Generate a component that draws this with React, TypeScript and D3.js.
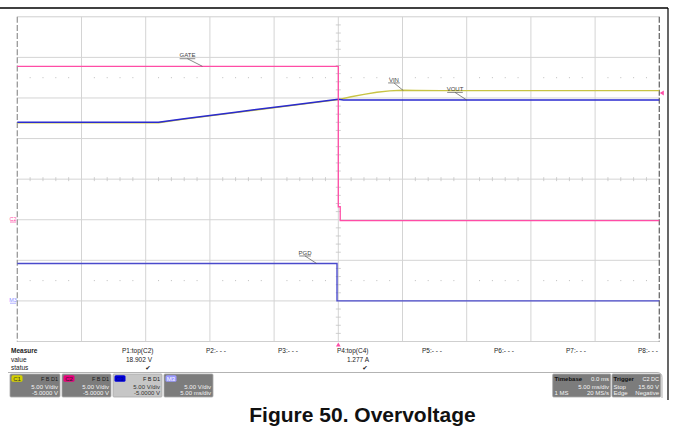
import React from 'react';
import * as d3 from 'd3';

// ---- data (time in ms, values in volts) ----
const vinTime = [-25, -14, -12, -8, -4, 0, 1, 2, 3, 4, 5, 6, 8, 25];
const vinVolts = [11.95, 11.95, 12.4, 13.2, 14.0, 14.8, 15.15, 15.45, 15.7, 15.88, 15.95, 15.93, 15.9, 15.9];
const voutTime = [-25, -14, -12, -8, -4, 0, 0.4, 25];
const voutVolts = [12.0, 12.0, 12.45, 13.25, 14.05, 14.85, 14.75, 14.75];
const gateTime = [-25, 0, 0, 0.15, 0.15, 25];
const gateVolts = [18.9, 18.9, 1.6, 1.6, -0.1, -0.1];
const pgdTime = [-25, -0.1, -0.1, 25];
const pgdVolts = [4.6, 4.6, 0, 0];

const measureLabels = ['P1:top(C2)', 'P2:- - -', 'P3:- - -', 'P4:top(C4)', 'P5:- - -', 'P6:- - -', 'P7:- - -', 'P8:- - -'];
const measureValues = ['18.902 V', '', '', '1.277 A', '', '', '', ''];
const measureStatus = [true, false, false, true, false, false, false, false];

const title = 'Figure 50. Overvoltage';

const W = 674;
const H = 430;
const plotLeft = 17.3;
const plotRight = 659.3;
const plotTop = 16.8;
const plotBottom = 341.5;

const x = d3.scaleLinear().domain([-25, 25]).range([plotLeft, plotRight]);
const yDiv = d3.scaleLinear().domain([-4, 4]).range([plotBottom, plotTop]);

// channel vertical mapping: volts -> divisions
const chC = (v: number) => (v - 5) / 5; // C1..C3 : 5 V/div, offset -5 V
const chM = (v: number) => v / 5 - 3; // M3 : 5 V/div, position -3 div

const mkLine = (conv: (v: number) => number) =>
  d3
    .line<[number, number]>()
    .x((d) => x(d[0]))
    .y((d) => yDiv(conv(d[1])));

const zip = (a: number[], b: number[]) => a.map((t, i) => [t, b[i]] as [number, number]);

const PINK = '#ff4da6';
const YEL = '#c8c444';
const BLUE = '#2a2ad0';
const PGDC = '#4a4acc';

const FONT = 'Arial, "Liberation Sans", sans-serif';

function Label({ text, t, v, conv, ldx }: { text: string; t: number; v: number; conv: (v: number) => number; ldx: number }) {
  const ax = x(t);
  const ay = yDiv(conv(v));
  const sx = ax + ldx;
  const sy = ay - 7.6;
  const tw = text.length * 3.9;
  return (
    <g>
      <line x1={ax} y1={ay} x2={sx} y2={sy} stroke="#555" strokeWidth={0.7} />
      <line x1={sx - tw / 2} y1={sy} x2={sx + tw / 2} y2={sy} stroke="#555" strokeWidth={0.7} />
      <text x={sx} y={sy - 1.3} fontSize={6} textAnchor="middle" fill="#444" fontFamily={FONT}>
        {text}
      </text>
    </g>
  );
}

function ChBox({ bx, w, badge, badgeColor, badgeText, bg, dark, rows }: any) {
  const by = 374;
  const h = 23;
  const tc = dark ? '#333' : '#f4f4f4';
  return (
    <g fontFamily={FONT} fontSize={6}>
      <rect x={bx} y={by} width={w} height={h} fill={bg} stroke="#a8a8a8" strokeWidth={0.8} rx={1} />
      <rect x={bx + 1.5} y={by + 1.2} width={11} height={6.5} fill={badgeColor} rx={1.5} />
      <text x={bx + 7} y={by + 6.6} textAnchor="middle" fill={badgeText} fontSize={6}>
        {badge}
      </text>
      {rows[0] && (
        <text x={bx + w - 2} y={by + 6.6} textAnchor="end" fill="#1a1a1a" fontSize={5.5}>
          {rows[0]}
        </text>
      )}
      <text x={bx + w - 2} y={by + 14.5} textAnchor="end" fill={tc}>
        {rows[1]}
      </text>
      <text x={bx + w - 2} y={by + 21} textAnchor="end" fill={tc}>
        {rows[2]}
      </text>
    </g>
  );
}

export default function App() {
  const vGrid = d3.range(-20, 25, 5);
  const hGrid = d3.range(-3, 4, 1);
  const minorT = d3.range(-25, 25.001, 1).filter((t) => Math.abs(t % 5) > 1e-6);
  const minorD = d3.range(-4, 4.001, 0.2).filter((d) => Math.abs(d - Math.round(d)) > 1e-6);
  const cx = x(0);
  const cy = yDiv(0);

  const measCols = [122, 206, 278, 337, 422, 494, 566, 638];
  const valRight = [152, 0, 0, 369, 0, 0, 0, 0];

  return (
    <svg width={W} height={H} style={{ position: 'absolute', left: 0, top: 0, background: '#fff' }}>
      {/* outer frame */}
      <line x1={0} y1={8} x2={668} y2={8} stroke="#000" strokeWidth={1.4} />
      <line x1={668} y1={8} x2={668} y2={400} stroke="#000" strokeWidth={1.2} />

      {/* plot area */}
      <rect x={plotLeft} y={plotTop} width={plotRight - plotLeft} height={plotBottom - plotTop} fill="#fff" stroke="none" />
      {vGrid.map((t) => (
        <line key={'vg' + t} x1={x(t)} x2={x(t)} y1={plotTop} y2={plotBottom} stroke="#d4d4d4" strokeWidth={1} />
      ))}
      {hGrid.map((d) => (
        <line key={'hg' + d} x1={plotLeft} x2={plotRight} y1={yDiv(d)} y2={yDiv(d)} stroke="#d4d4d4" strokeWidth={1} />
      ))}
      {/* dotted rows */}
      {[2.5, -2.5].map((d) =>
        minorT.map((t) => (
          <rect key={'dot' + d + '_' + t} x={x(t) - 0.5} y={yDiv(d) - 0.5} width={1} height={1} fill="#bdbdbd" />
        ))
      )}
      {/* center axis ticks */}
      {minorT.map((t) => (
        <line key={'ct' + t} x1={x(t)} x2={x(t)} y1={cy - 2} y2={cy + 2} stroke="#c4c4c4" strokeWidth={0.8} />
      ))}
      {minorD.map((d) => (
        <line key={'cd' + d} x1={cx - 2.5} x2={cx + 2.5} y1={yDiv(d)} y2={yDiv(d)} stroke="#c4c4c4" strokeWidth={0.8} />
      ))}
      {/* borders */}
      <line x1={plotLeft} x2={plotRight} y1={plotTop} y2={plotTop} stroke="#cfcfcf" strokeWidth={1} />
      <line x1={plotLeft} x2={plotRight} y1={plotBottom} y2={plotBottom} stroke="#cfcfcf" strokeWidth={1} />
      <line x1={plotLeft} x2={plotLeft} y1={plotTop} y2={plotBottom} stroke="#9a9a9a" strokeWidth={1.3} strokeDasharray="6 2.1" />
      <line x1={plotRight} x2={plotRight} y1={plotTop} y2={plotBottom} stroke="#6a6a6a" strokeWidth={1.3} strokeDasharray="6 2.1" />

      {/* traces */}
      <path d={mkLine(chC)(zip(vinTime, vinVolts)) || ''} fill="none" stroke={YEL} strokeWidth={1.4} />
      <path d={mkLine(chC)(zip(voutTime, voutVolts)) || ''} fill="none" stroke={BLUE} strokeWidth={1.5} />
      <path d={mkLine(chC)(zip(gateTime, gateVolts)) || ''} fill="none" stroke={PINK} strokeWidth={1.3} />
      <path d={mkLine(chM)(zip(pgdTime, pgdVolts)) || ''} fill="none" stroke={PGDC} strokeWidth={1.4} />

      {/* trace labels */}
      <Label text="GATE" t={-10.58} v={18.9} conv={chC} ldx={-15} />
      <Label text="VIN" t={5.06} v={15.92} conv={chC} ldx={-9.3} />
      <Label text="VOUT" t={10.0} v={14.75} conv={chC} ldx={-11.7} />
      <Label text="PGD" t={-1.68} v={4.6} conv={chM} ldx={-11.7} />

      {/* ground markers */}
      <text x={13} y={yDiv(chC(0)) + 1.5} fontSize={5.5} textAnchor="middle" fill={PINK} fontFamily={FONT}>
        C2
      </text>
      <line x1={10} x2={16} y1={yDiv(chC(0)) + 2.3} y2={yDiv(chC(0)) + 2.3} stroke={PINK} strokeWidth={0.7} />
      <text x={13} y={yDiv(chM(0)) + 1.5} fontSize={5.5} textAnchor="middle" fill="#8c8cff" fontFamily={FONT}>
        M3
      </text>
      <line x1={10} x2={16} y1={yDiv(chM(0)) + 2.3} y2={yDiv(chM(0)) + 2.3} stroke="#8c8cff" strokeWidth={0.7} />

      {/* trigger markers */}
      <path
        d={`M${plotRight + 0.5},${yDiv(chC(15.6))} l4,-2.5 l0,5 z`}
        fill={PINK}
      />
      <path d={`M${cx},${plotBottom + 1} l2.3,4 l-4.6,0 z`} fill={PINK} />

      {/* measurement table */}
      <g fontFamily={FONT} fontSize={6.5} fill="#222">
        <text x={11} y={353.3} fontWeight="bold">Measure</text>
        <text x={11} y={361.6}>value</text>
        <text x={11} y={370}>status</text>
        {measureLabels.map((m, i) => (
          <text key={m + i} x={measCols[i]} y={353.3}>
            {m}
          </text>
        ))}
        {measureValues.map((v, i) =>
          v ? (
            <text key={'v' + i} x={valRight[i]} y={361.6} textAnchor="end">
              {v}
            </text>
          ) : null
        )}
        {measureStatus.map((s, i) =>
          s ? (
            <text key={'s' + i} x={valRight[i] - 4} y={370.3} textAnchor="middle" fontSize={6.5} fontFamily="DejaVu Sans">
              ✔
            </text>
          ) : null
        )}
      </g>
      <path d="M8,372.5 H657 Q662,372.5 662,377.5 V398" fill="none" stroke="#a0a0a0" strokeWidth={0.8} />

      {/* channel boxes */}
      <ChBox bx={10} w={50} badge="C1" badgeColor="#d4d000" badgeText="#333" bg="#7c7c7c" rows={['F B D1', '5.00 V/div', '-5.0000 V']} />
      <ChBox bx={62} w={49} badge="C2" badgeColor="#e8007c" badgeText="#222" bg="#7c7c7c" rows={['F B D1', '5.00 V/div', '-5.0000 V']} />
      <ChBox bx={113} w={49} badge="C3" badgeColor="#0000d8" badgeText="#00008a" bg="#c6c6c6" dark rows={['F B D1', '5.00 V/div', '-5.0000 V']} />
      <ChBox bx={164} w={49} badge="M3" badgeColor="#9a9aff" badgeText="#fff" bg="#7c7c7c" rows={['', '5.00 V/div', '5.00 ms/div']} />

      {/* timebase / trigger */}
      <g fontFamily={FONT} fontSize={6}>
        <rect x={552.7} y={374} width={58} height={23} fill="#7c7c7c" stroke="#a8a8a8" strokeWidth={0.8} rx={1} />
        <text x={554.5} y={380.6} fontWeight="bold" fill="#111">Timebase</text>
        <text x={609} y={380.6} textAnchor="end" fill="#f4f4f4">0.0 ms</text>
        <text x={609} y={388.5} textAnchor="end" fill="#f4f4f4">5.00 ms/div</text>
        <text x={554.5} y={395} fill="#f4f4f4">1 MS</text>
        <text x={609} y={395} textAnchor="end" fill="#f4f4f4">20 MS/s</text>

        <rect x={612} y={374} width={48.7} height={23} fill="#7c7c7c" stroke="#a8a8a8" strokeWidth={0.8} rx={1} />
        <text x={613.6} y={380.6} fontWeight="bold" fill="#111">Trigger</text>
        <text x={659} y={380.6} textAnchor="end" fill="#f4f4f4" fontSize={5.5}>C2 DC</text>
        <text x={613.6} y={388.5} fill="#f4f4f4">Stop</text>
        <text x={659} y={388.5} textAnchor="end" fill="#f4f4f4">15.60 V</text>
        <text x={613.6} y={395} fill="#f4f4f4">Edge</text>
        <text x={659} y={395} textAnchor="end" fill="#f4f4f4">Negative</text>
      </g>

      {/* title */}
      <text x={362.5} y={421.5} textAnchor="middle" fontFamily={FONT} fontWeight="bold" fontSize={21} fill="#111">
        {title}
      </text>
    </svg>
  );
}
